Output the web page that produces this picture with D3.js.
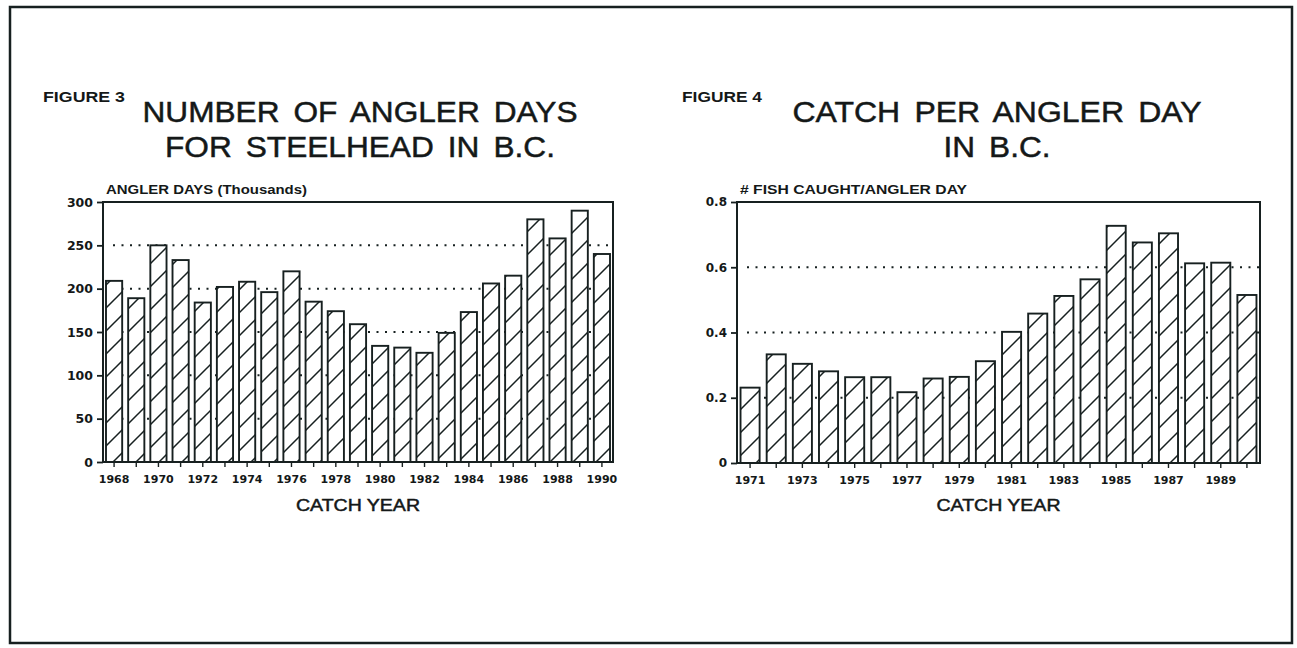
<!DOCTYPE html>
<html>
<head>
<meta charset="utf-8">
<script src="https://cdn.jsdelivr.net/npm/d3@7"></script>
<style>
  html, body { margin: 0; padding: 0; background: #fff; }
  svg { display: block; }
  text { fill: #141818; }
</style>
</head>
<body>
<svg id="page"></svg>
<script>
// Figure 3 - angler days (thousands)
const anglerYears = [1968, 1969, 1970, 1971, 1972, 1973, 1974, 1975, 1976, 1977, 1978, 1979,
                     1980, 1981, 1982, 1983, 1984, 1985, 1986, 1987, 1988, 1989, 1990];
const anglerDays = [209, 189, 250, 233, 184, 202, 208, 196, 220, 185, 174, 159,
                    134, 132, 126, 149, 173, 206, 215, 280, 258, 290, 240];
const anglerTicks = [0, 50, 100, 150, 200, 250, 300];
const anglerGrid = [50, 100, 150, 200, 250];
const anglerLabelYears = [1968, 1970, 1972, 1974, 1976, 1978, 1980, 1982, 1984, 1986, 1988, 1990];

// Figure 4 - catch per angler day
const catchYears = [1971, 1972, 1973, 1974, 1975, 1976, 1977, 1978, 1979, 1980,
                    1981, 1982, 1983, 1984, 1985, 1986, 1987, 1988, 1989, 1990];
const catchPerDay = [0.231, 0.333, 0.304, 0.281, 0.263, 0.263, 0.217, 0.259, 0.264, 0.312,
                     0.402, 0.458, 0.512, 0.563, 0.727, 0.676, 0.704, 0.612, 0.614, 0.515];
const catchTicks = [0, 0.2, 0.4, 0.6, 0.8];
const catchGrid = [0.2, 0.4, 0.6];
const catchLabelYears = [1971, 1973, 1975, 1977, 1979, 1981, 1983, 1985, 1987, 1989];

const W = 1297, H = 648;
const ink = "#172020";

const svg = d3.select("#page").attr("width", W).attr("height", H);

// diagonal hatch for the bars
const defs = svg.append("defs");
const hatch = defs.append("pattern")
    .attr("id", "hatch")
    .attr("patternUnits", "userSpaceOnUse")
    .attr("width", 23).attr("height", 23);
hatch.append("rect").attr("width", 23).attr("height", 23).attr("fill", "#fff");
hatch.append("path")
    .attr("d", "M0,23 L23,0 M-2,2 L2,-2 M21,25 L25,21")
    .attr("stroke", ink).attr("stroke-width", 1.5);

// outer frame
svg.append("rect")
    .attr("x", 10).attr("y", 7)
    .attr("width", 1282).attr("height", 636)
    .attr("fill", "none").attr("stroke", ink).attr("stroke-width", 2.5);

function label(g, txt, x, y, opts) {
    const t = g.append("text")
        .attr("x", x).attr("y", y)
        .attr("font-family", opts.family || "'Liberation Sans', Arial, sans-serif")
        .attr("font-size", opts.size)
        .attr("font-weight", opts.weight || "normal")
        .attr("text-anchor", opts.anchor || "start")
        .text(txt);
    if (opts.words) t.attr("word-spacing", opts.words);
    if (opts.len) t.attr("textLength", opts.len).attr("lengthAdjust", "spacingAndGlyphs");
    if (opts.heavy) t.attr("stroke", "#141818").attr("stroke-width", opts.heavy);
    return t;
}

function drawChart(c) {
    const g = svg.append("g");

    const x = d3.scaleBand()
        .domain(c.years)
        .range([c.left, c.right])
        .paddingInner(0.27).paddingOuter(0.135);
    const y = d3.scaleLinear()
        .domain([0, c.max])
        .range([c.bottom, c.top]);

    // titles
    label(g, c.fig, c.figX, 101.5, { size: 14, weight: "bold", len: c.figLen });
    label(g, c.title1, c.titleX, 121.5, { size: 30, anchor: "middle", len: c.title1Len, heavy: 0.5, words: 5 });
    label(g, c.title2, c.titleX, 157, { size: 30, anchor: "middle", len: c.title2Len, heavy: 0.5, words: 5 });
    label(g, c.unit, c.left + 3, 194, { size: 13.5, weight: "bold", len: c.unitLen });

    // dotted gridlines (behind the bars)
    g.append("g").selectAll("line")
        .data(c.grid)
        .join("line")
        .attr("x1", c.left + 10).attr("x2", c.right)
        .attr("y1", d => y(d)).attr("y2", d => y(d))
        .attr("stroke", ink).attr("stroke-width", 2)
        .attr("stroke-dasharray", "2,6.5");

    // bars
    g.append("g").selectAll("rect")
        .data(c.values)
        .join("rect")
        .attr("x", (d, i) => x(c.years[i]))
        .attr("y", d => y(d))
        .attr("width", x.bandwidth())
        .attr("height", d => c.bottom - y(d))
        .attr("fill", "url(#hatch)")
        .attr("stroke", ink).attr("stroke-width", 1.9);

    // plot box
    g.append("rect")
        .attr("x", c.left).attr("y", c.top)
        .attr("width", c.right - c.left).attr("height", c.bottom - c.top)
        .attr("fill", "none").attr("stroke", ink).attr("stroke-width", 2);

    // y axis
    const yAxis = g.append("g")
        .attr("transform", `translate(${c.left},0)`)
        .call(d3.axisLeft(y).tickValues(c.ticks).tickSize(6).tickPadding(4)
            .tickFormat(d => d === 0 ? "0" : c.fmt(d)));
    yAxis.select(".domain").remove();
    yAxis.selectAll("line").attr("stroke", ink).attr("stroke-width", 1.8);
    yAxis.selectAll("text")
        .attr("font-family", "'DejaVu Sans', sans-serif")
        .attr("font-weight", "bold")
        .attr("font-size", c.tickSize)
        .attr("fill", "#141818");

    // x axis: tick under every bar, label every other year
    const xAxis = g.append("g")
        .attr("transform", `translate(0,${c.bottom})`)
        .call(d3.axisBottom(x).tickSize(5).tickPadding(8)
            .tickFormat(d => c.labelYears.includes(d) ? d : ""));
    xAxis.select(".domain").remove();
    xAxis.selectAll("line").attr("stroke", ink).attr("stroke-width", 1.4);
    xAxis.selectAll("text")
        .attr("font-family", "'DejaVu Sans', sans-serif")
        .attr("font-weight", "bold")
        .attr("font-size", 11)
        .attr("fill", "#141818");

    label(g, "CATCH YEAR", (c.left + c.right) / 2, 511, { size: 17, anchor: "middle", len: 124, heavy: 0.5 });
}

drawChart({
    years: anglerYears, values: anglerDays, ticks: anglerTicks, grid: anglerGrid,
    labelYears: anglerLabelYears, max: 300, fmt: d3.format("d"), tickSize: 12.5,
    left: 103, right: 613, top: 202, bottom: 462,
    fig: "FIGURE 3", figX: 43, figLen: 82,
    title1: "NUMBER OF ANGLER DAYS", title2: "FOR STEELHEAD IN B.C.",
    titleX: 360, title1Len: 435, title2Len: 390,
    unit: "ANGLER DAYS (Thousands)", unitLen: 201
});

drawChart({
    years: catchYears, values: catchPerDay, ticks: catchTicks, grid: catchGrid,
    labelYears: catchLabelYears, max: 0.8, fmt: d3.format(".1f"), tickSize: 12,
    left: 737, right: 1260, top: 202, bottom: 463,
    fig: "FIGURE 4", figX: 682, figLen: 80,
    title1: "CATCH PER ANGLER DAY", title2: "IN B.C.",
    titleX: 997, title1Len: 409, title2Len: 107,
    unit: "# FISH CAUGHT/ANGLER DAY", unitLen: 227
});
</script>
</body>
</html>
